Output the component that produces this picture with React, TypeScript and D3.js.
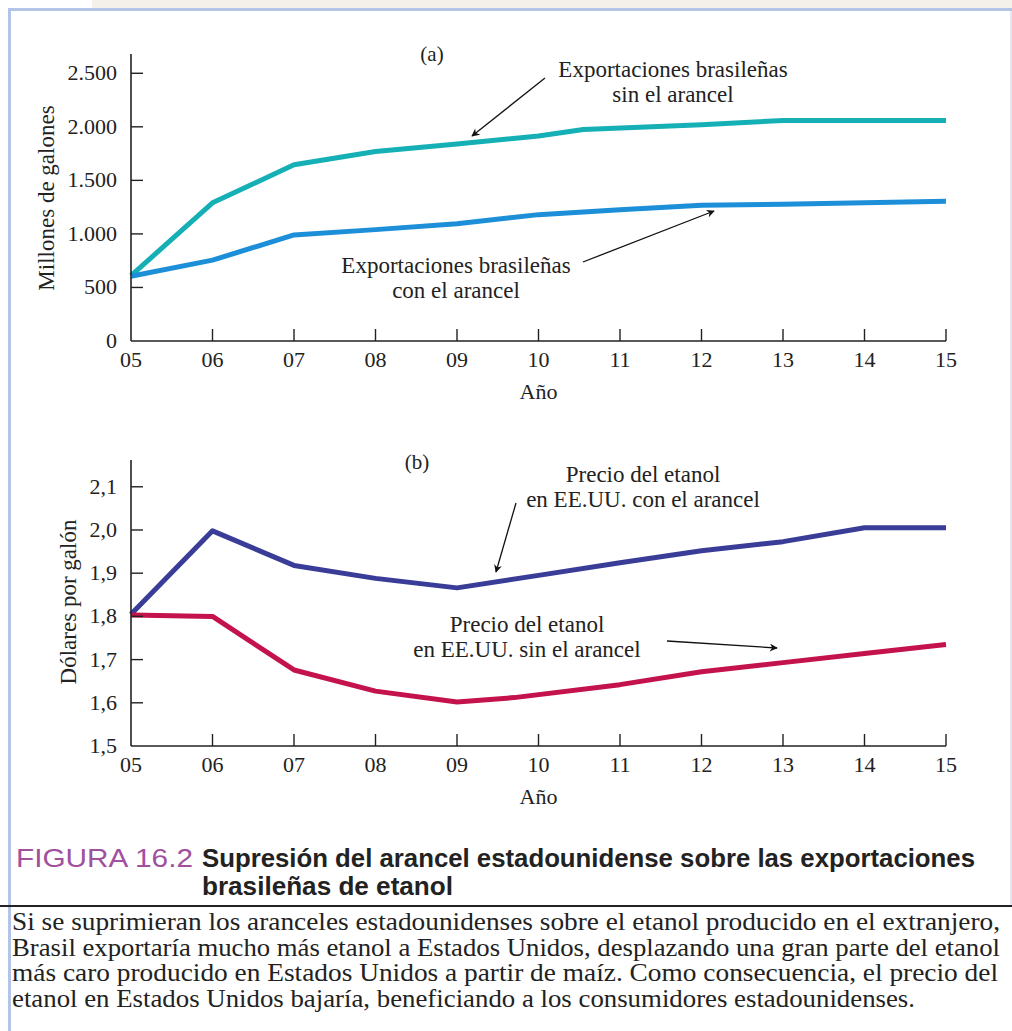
import React from "react";
import * as d3 from "d3";

const years = [5, 6, 7, 8, 9, 10, 11, 12, 13, 14, 15];
const yearLabels = ["05", "06", "07", "08", "09", "10", "11", "12", "13", "14", "15"];

// Panel (a): millions of gallons
const exportsNoTariff: [number, number][] = [
  [5, 610], [6, 1290], [7, 1645], [8, 1770], [9, 1840], [10, 1915], [10.55, 1975], [12, 2020], [13, 2060], [15, 2060],
];
const exportsTariff: [number, number][] = [
  [5, 605], [6, 755], [7, 990], [8, 1040], [9, 1095], [10, 1180], [11, 1225], [12, 1268], [13, 1278], [15, 1305],
];
const ticksA = [0, 500, 1000, 1500, 2000, 2500];
const ticksALabels = ["0", "500", "1.000", "1.500", "2.000", "2.500"];

// Panel (b): dollars per gallon
const priceTariff: [number, number][] = [
  [5, 1.805], [6, 1.998], [7, 1.918], [8, 1.888], [9, 1.866], [10, 1.895], [11, 1.924], [12, 1.952], [13, 1.973], [14, 2.005], [15, 2.005],
];
const priceNoTariff: [number, number][] = [
  [5, 1.803], [6, 1.8], [7, 1.676], [8, 1.627], [9, 1.602], [9.7, 1.612], [11, 1.642], [12, 1.672], [13, 1.693], [14, 1.714], [15, 1.735],
];
const ticksB = [1.5, 1.6, 1.7, 1.8, 1.9, 2.0, 2.1];
const ticksBLabels = ["1,5", "1,6", "1,7", "1,8", "1,9", "2,0", "2,1"];

const bodyLines = [
  "Si se suprimieran los aranceles estadounidenses sobre el etanol producido en el extranjero,",
  "Brasil exportaría mucho más etanol a Estados Unidos, desplazando una gran parte del etanol",
  "más caro producido en Estados Unidos a partir de maíz. Como consecuencia, el precio del",
  "etanol en Estados Unidos bajaría, beneficiando a los consumidores estadounidenses.",
];
const bodyWidths = [988, 988, 986, 903];

const SERIF = "'Liberation Serif', 'DejaVu Serif', serif";
const SANS = "'Liberation Sans Narrow', 'Liberation Sans', sans-serif";

const x = d3.scaleLinear().domain([5, 15]).range([131, 946]);
const yA = d3.scaleLinear().domain([0, 2680]).range([341, 54]);
const yB = d3.scaleLinear().domain([1.5, 2.162]).range([746, 460]);

function Panel({ y, ticks, tickLabels, series, axisLabel, axisLabelX, panelLabel, panelLabelPos }: any) {
  const line = d3.line<[number, number]>().x((d) => x(d[0])).y((d) => y(d[1]));
  const [y0, y1] = y.range();
  return (
    <g>
      {series.map((s: any, i: number) => (
        <path key={i} d={line(s.data) || ""} fill="none" stroke={s.color} strokeWidth={5} strokeLinejoin="round" />
      ))}
      <line x1={x(5)} x2={x(5)} y1={y0} y2={y1} stroke="#222" strokeWidth={1.6} />
      <line x1={x(5)} x2={x(15)} y1={y0} y2={y0} stroke="#222" strokeWidth={1.6} />
      {ticks.map((t: number, i: number) => (
        <g key={"yt" + i}>
          {i > 0 && <line x1={x(5)} x2={x(5) + 12} y1={y(t)} y2={y(t)} stroke="#222" strokeWidth={1.4} />}
          <text x={117} y={y(t) + 7} textAnchor="end" fontFamily={SERIF} fontSize={22} fill="#222">{tickLabels[i]}</text>
        </g>
      ))}
      {years.map((yr, i) => (
        <g key={"xt" + i}>
          {i > 0 && <line x1={x(yr)} x2={x(yr)} y1={y0} y2={y0 - 12} stroke="#222" strokeWidth={1.4} />}
          <text x={x(yr)} y={y0 + 26} textAnchor="middle" fontFamily={SERIF} fontSize={22} fill="#222">{yearLabels[i]}</text>
        </g>
      ))}
      <text x={x(10)} y={y0 + 58} textAnchor="middle" fontFamily={SERIF} fontSize={22} fill="#222">Año</text>
      <text transform={`translate(${axisLabelX[0]},${axisLabelX[1]}) rotate(-90)`} textAnchor="middle" fontFamily={SERIF} fontSize={23} fill="#222">{axisLabel}</text>
      <text x={panelLabelPos[0]} y={panelLabelPos[1]} textAnchor="middle" fontFamily={SERIF} fontSize={21} fill="#222">{panelLabel}</text>
    </g>
  );
}

function Note({ lines, cx, y, arrow }: any) {
  return (
    <g>
      {lines.map((l: string, i: number) => (
        <text key={i} x={cx} y={y + i * 25} textAnchor="middle" fontFamily={SERIF} fontSize={23} fill="#222">{l}</text>
      ))}
      <line x1={arrow[0]} y1={arrow[1]} x2={arrow[2]} y2={arrow[3]} stroke="#111" strokeWidth={1.3} markerEnd="url(#arr)" />
    </g>
  );
}

export default function App() {
  return (
    <svg width={1012} height={1031} style={{ position: "absolute", left: 0, top: 0 }}>
      <defs>
        <marker id="arr" viewBox="0 0 10 10" refX="9" refY="5" markerWidth="10" markerHeight="8" markerUnits="userSpaceOnUse" orient="auto">
          <path d="M0,0 L10,5 L0,10 L3,5 Z" fill="#111" />
        </marker>
      </defs>
      <rect x={0} y={0} width={1012} height={1031} fill="#fff" />
      <rect x={92} y={0} width={920} height={8} fill="#f4f1ea" />
      <rect x={8} y={8} width={1004} height={3} fill="#b3c5e6" />
      <rect x={8} y={8} width={3} height={1023} fill="#b3c5e6" />
      <rect x={1010} y={11} width={2} height={896} fill="#e8e6f2" />

      <Panel
        y={yA}
        ticks={ticksA}
        tickLabels={ticksALabels}
        series={[
          { data: exportsNoTariff, color: "#15b0b6" },
          { data: exportsTariff, color: "#1c8fd8" },
        ]}
        axisLabel="Millones de galones"
        axisLabelX={[54, 198]}
        panelLabel="(a)"
        panelLabelPos={[432, 61]}
      />
      <Panel
        y={yB}
        ticks={ticksB}
        tickLabels={ticksBLabels}
        series={[
          { data: priceTariff, color: "#3a3d98" },
          { data: priceNoTariff, color: "#c3124c" },
        ]}
        axisLabel="Dólares por galón"
        axisLabelX={[76, 602]}
        panelLabel="(b)"
        panelLabelPos={[417, 469]}
      />

      <Note lines={["Exportaciones brasileñas", "sin el arancel"]} cx={673} y={77} arrow={[545, 78, 472, 136]} />
      <Note lines={["Exportaciones brasileñas", "con el arancel"]} cx={456} y={273} arrow={[583, 262, 714, 211]} />
      <Note lines={["Precio del etanol", "en EE.UU. con el arancel"]} cx={643} y={482} arrow={[516, 503, 496, 572]} />
      <Note lines={["Precio del etanol", "en EE.UU. sin el arancel"]} cx={527} y={632} arrow={[667, 641, 777, 648]} />

      <text x={16} y={867} fontFamily={SANS} fontSize={25} fill="#a0509e" textLength={177} lengthAdjust="spacingAndGlyphs">FIGURA 16.2</text>
      <text x={202} y={867} fontFamily={SANS} fontWeight={700} fontSize={25} fill="#222" textLength={773} lengthAdjust="spacingAndGlyphs">Supresión del arancel estadounidense sobre las exportaciones</text>
      <text x={202} y={895} fontFamily={SANS} fontWeight={700} fontSize={25} fill="#222" textLength={251} lengthAdjust="spacingAndGlyphs">brasileñas de etanol</text>
      <rect x={0} y={905} width={1012} height={2} fill="#222" />
      {bodyLines.map((l, i) => (
        <text key={i} x={12} y={930 + i * 25.5} fontFamily={SERIF} fontSize={25} fill="#222" textLength={bodyWidths[i]} lengthAdjust="spacingAndGlyphs">{l}</text>
      ))}
    </svg>
  );
}
